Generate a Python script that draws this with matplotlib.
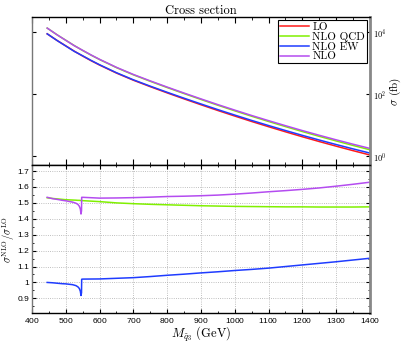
import numpy as np
import matplotlib
matplotlib.use("Agg")
import matplotlib.pyplot as plt
from matplotlib.ticker import MultipleLocator, FixedLocator

plt.rcParams['mathtext.fontset'] = 'cm'
plt.rcParams['axes.formatter.use_mathtext'] = True

# ---- data ----
mass = [445, 475, 500, 525, 550, 575, 600, 650, 700, 750, 800, 850, 900, 950, 1000,
        1050, 1100, 1150, 1200, 1250, 1300, 1350, 1400]
sigma_lo = [8710, 5250, 3550, 2400, 1660, 1175, 851, 468, 275, 170, 107, 68.4, 44.2,
            28.8, 19.05, 12.7, 8.61, 5.89, 4.07, 2.85, 2.02, 1.445, 1.047]

mass_fine = [445, 460, 480, 490, 500, 520, 530, 536, 540, 543, 545, 546.5, 547, 550,
             600, 650, 700, 750, 800, 850, 900, 950, 1000, 1050, 1100, 1150,
             1200, 1250, 1300, 1350, 1400]
k_qcd = [1.532, 1.528, 1.524, 1.522, 1.520, 1.518, 1.517, 1.516, 1.516, 1.515, 1.515, 1.515, 1.515, 1.514,
         1.508, 1.500, 1.495, 1.491, 1.488, 1.485, 1.482, 1.480, 1.478, 1.477, 1.476, 1.475,
         1.475, 1.474, 1.474, 1.474, 1.475]
k_ew = [1.000, 0.998, 0.994, 0.992, 0.991, 0.986, 0.980, 0.972, 0.962, 0.945, 0.918, 0.935, 1.020, 1.021,
        1.022, 1.026, 1.030, 1.037, 1.045, 1.052, 1.060, 1.067, 1.075, 1.082, 1.090, 1.100,
        1.110, 1.120, 1.130, 1.141, 1.152]
k_nlo = [1.535, 1.527, 1.520, 1.516, 1.513, 1.505, 1.498, 1.490, 1.479, 1.462, 1.430, 1.450, 1.535, 1.535,
         1.530, 1.531, 1.533, 1.536, 1.540, 1.542, 1.545, 1.549, 1.555, 1.562, 1.570, 1.577,
         1.585, 1.594, 1.605, 1.617, 1.630]

labels = ['LO', 'NLO QCD', 'NLO EW', 'NLO']
colors = ['#ff1a1a', '#80f000', '#1f3cff', '#b44cf0']

# cross sections from LO times K-factors (K taken on the cross-section mass grid)
lo = np.array(sigma_lo)
kq = np.interp(mass, mass_fine, k_qcd)
ke = np.interp(mass, mass_fine, k_ew)
kn = np.interp(mass, mass_fine, k_nlo)
curves = [lo, lo * kq, lo * ke, lo * kn]

fig = plt.figure(figsize=(4.03, 3.43), dpi=100)
ax1 = fig.add_axes([0.0794, 0.5175, 0.8386, 0.4325])
ax2 = fig.add_axes([0.0794, 0.0875, 0.8386, 0.43])

serif = 'cmr10'
tick_fs = 6.0

for y, c, lab in zip(curves, colors, labels):
    ax1.plot(mass, y, color=c, lw=1.1, label=lab)
ax1.set_yscale('log')
ax1.set_xlim(400, 1400)
ax1.set_ylim(10**-0.32, 10**4.48)
ax1.yaxis.set_major_locator(FixedLocator([1, 100, 10000]))
ax1.yaxis.set_minor_locator(FixedLocator([]))
ax1.yaxis.tick_right()
ax1.yaxis.set_label_position('right')
ax1.tick_params(axis='y', which='both', direction='in', left=True, right=True,
                labelleft=False, labelright=True, labelsize=tick_fs, length=3, pad=2)
ax1.set_yticklabels([r'$10^0$', r'$10^2$', r'$10^4$'])
ax1.xaxis.set_major_locator(MultipleLocator(100))
ax1.xaxis.set_minor_locator(MultipleLocator(50))
ax1.tick_params(axis='x', which='both', direction='in', top=True, bottom=True,
                labelbottom=False)
ax1.tick_params(axis='x', which='major', length=4)
ax1.tick_params(axis='x', which='minor', length=2)
ax1.set_ylabel(r'$\sigma$ (fb)', family=serif, fontsize=8, labelpad=1)
ax1.set_title('Cross section', family=serif, fontsize=9, pad=2)
leg = ax1.legend(loc='upper right', prop={'family': serif, 'size': 8},
                 fancybox=False, framealpha=1, edgecolor='black',
                 borderpad=0.15, labelspacing=0.0, handlelength=2.6,
                 handletextpad=0.3, borderaxespad=0.3)
leg.get_frame().set_linewidth(0.8)

ax2.plot(mass_fine, k_qcd, color=colors[1], lw=1.1)
ax2.plot(mass_fine, k_ew, color=colors[2], lw=1.1)
ax2.plot(mass_fine, k_nlo, color=colors[3], lw=1.1)
ax2.set_xlim(400, 1400)
ax2.set_ylim(0.808, 1.735)
ax2.xaxis.set_major_locator(MultipleLocator(100))
ax2.xaxis.set_minor_locator(MultipleLocator(50))
ax2.yaxis.set_minor_locator(MultipleLocator(0.05))
ax2.set_yticks(np.arange(0.9, 1.71, 0.1))
ax2.set_yticklabels(['0.9', '1', '1.1', '1.2', '1.3', '1.4', '1.5', '1.6', '1.7'])
ax2.tick_params(axis='both', which='both', direction='in', top=True, right=True,
                labelsize=tick_fs, pad=2)
ax2.tick_params(which='major', length=3)
ax2.tick_params(which='minor', length=1.5)
for t in ax2.get_xticklabels() + ax2.get_yticklabels() + ax1.get_yticklabels():
    t.set_family('Liberation Sans')
ax2.grid(True, which='major', ls=':', color='#aaaaaa', lw=0.6)
ax2.set_xlabel(r'$M_{\tilde{q}_3}$ (GeV)', family=serif, fontsize=9, labelpad=0)
ax2.set_ylabel(r'$\sigma^{\rm NLO}/\sigma^{\rm LO}$', family=serif, fontsize=7.5)
ax2.yaxis.set_label_coords(-0.043, 0.5)

for ax in (ax1, ax2):
    ax.spines['right'].set_color('#888888')
    ax.spines['right'].set_linewidth(2.0)
    ax.spines['left'].set_color('#777777')
    ax.spines['left'].set_linewidth(1.0)
    ax.spines['top'].set_linewidth(1.0)
    ax.spines['bottom'].set_linewidth(1.0)

fig.savefig('out.png', dpi=100)
